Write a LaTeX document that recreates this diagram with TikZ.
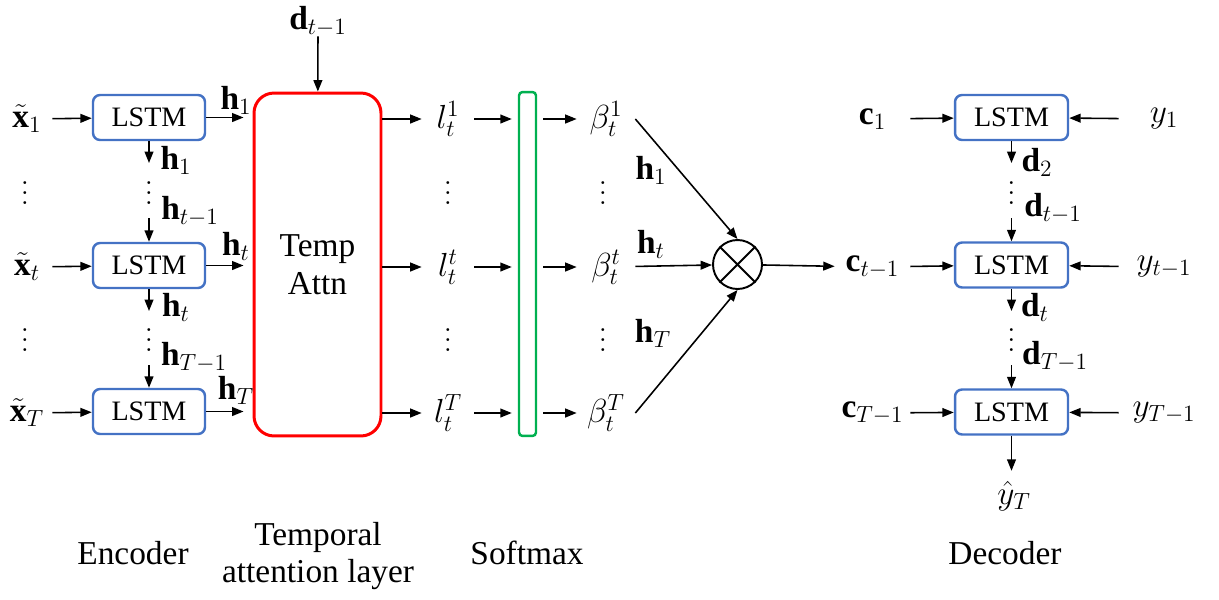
\RequirePackage{fix-cm}
\documentclass[tikz,border=0pt]{standalone}
\usepackage{amsmath}
\usepackage{amssymb}
\usepackage{fontspec}
\setmainfont{Liberation Serif}
\usetikzlibrary{positioning,arrows.meta,calc}

\definecolor{lstmblue}{RGB}{68,114,196}
\definecolor{attnred}{RGB}{255,0,0}
\definecolor{softgreen}{RGB}{0,176,80}

% three dots, no extra room above them
\newcommand{\vdotz}{\smash{\vbox{\baselineskip=5.5pt\lineskiplimit=0pt
  \hbox{$.$}\hbox{$.$}\hbox{$.$}}}}

\tikzset{
  lstm/.style={draw=lstmblue, line width=1.4pt, rounded corners=4pt,
    minimum width=2.24cm, minimum height=0.9cm, inner sep=0pt,
    font=\fontsize{16}{19}\selectfont},
  lbl/.style={font=\fontsize{19}{22}\selectfont, inner sep=0pt},
  vdot/.style={font=\fontsize{17}{20}\selectfont, inner sep=0pt},
  capt/.style={font=\fontsize{19}{21.5}\selectfont, align=center},
  arr/.style={-{Triangle[length=6.5pt,width=5pt]}, line width=0.9pt},
}

\begin{document}
\begin{tikzpicture}[x=0.02cm, y=-0.02cm]
  \useasboundingbox (0,0) rectangle (1219,599);

  % encoder
  \node[lstm] (enc1) at (149,117.5) {LSTM};
  \node[lstm] (enc2) at (149,265.5) {LSTM};
  \node[lstm] (enc3) at (149,411.5) {LSTM};
  \node[lbl, minimum width=1cm] (x1) at (27,119) {$\tilde{\mathbf{x}}_1$};
  \node[lbl, minimum width=1cm] (xt) at (27,267) {$\tilde{\mathbf{x}}_t$};
  \node[lbl, minimum width=1cm] (xT) at (27,413) {$\tilde{\mathbf{x}}_T$};
  \node[vdot] (xd1) at (25,204) {\vdotz};
  \node[vdot] (xd2) at (25,351) {\vdotz};
  \draw[arr] (x1) -- (enc1);
  \draw[arr] (xt) -- (enc2);
  \draw[arr] (xT) -- (enc3);

  \coordinate (e1s) at (149,163);
  \coordinate (e2n) at (149,218);
  \coordinate (e2s) at (149,311);
  \coordinate (e3n) at (149,365);
  \draw[arr] (enc1) -- (e1s);
  \draw[arr] (e2n) -- (enc2);
  \draw[arr] (enc2) -- (e2s);
  \draw[arr] (e3n) -- (enc3);
  \node[vdot] (ed1) at (149,204) {\vdotz};
  \node[vdot] (ed2) at (149,351) {\vdotz};
  \node[lbl] (hd1) at (176,160) {$\mathbf{h}_1$};
  \node[lbl] (hd2) at (190,211) {$\mathbf{h}_{t-1}$};
  \node[lbl] (hd3) at (176,307) {$\mathbf{h}_t$};
  \node[lbl] (hd4) at (194,357) {$\mathbf{h}_{T-1}$};

  % temporal attention
  \node[draw=attnred, line width=1.7pt, rounded corners=0.4cm,
    minimum width=2.54cm, minimum height=6.86cm, align=center,
    font=\fontsize{19}{21.5}\selectfont] (attn) at (317.5,264.5) {Temp\\Attn};
  \node[lbl] (dprev) at (318,21) {$\mathbf{d}_{t-1}$};
  \draw[arr] (dprev) -- (attn);

  \draw[arr, shorten >=0.18cm] (enc1) -- (enc1 -| attn.west);
  \draw[arr, shorten >=0.18cm] (enc2) -- (enc2 -| attn.west);
  \draw[arr, shorten >=0.18cm] (enc3) -- (enc3 -| attn.west);
  \node[lbl] (he1) at (236,100) {$\mathbf{h}_1$};
  \node[lbl] (het) at (236,246) {$\mathbf{h}_t$};
  \node[lbl] (heT) at (236,390) {$\mathbf{h}_T$};

  \node[lbl, minimum width=1.04cm] (l1) at (448,119) {$l_t^1$};
  \node[lbl, minimum width=1.04cm] (lt) at (448,267) {$l_t^t$};
  \node[lbl, minimum width=1.04cm] (lT) at (448,413) {$l_t^T$};
  \node[vdot] (ld1) at (448,204) {\vdotz};
  \node[vdot] (ld2) at (448,351) {\vdotz};
  \draw[arr] (attn.east |- l1) -- (l1);
  \draw[arr] (attn.east |- lt) -- (lt);
  \draw[arr] (attn.east |- lT) -- (lT);

  % softmax
  \node[draw=softgreen, line width=1.4pt, rounded corners=2pt,
    minimum width=0.34cm, minimum height=6.88cm, inner sep=0pt] (soft) at (527.5,264) {};
  \draw[arr, shorten >=0.12cm] (l1) -- (l1 -| soft.west);
  \draw[arr, shorten >=0.12cm] (lt) -- (lt -| soft.west);
  \draw[arr, shorten >=0.12cm] (lT) -- (lT -| soft.west);

  \node[lbl, minimum width=1.16cm] (b1) at (606,119) {$\beta_t^1$};
  \node[lbl, minimum width=1.16cm] (bt) at (606,267) {$\beta_t^t$};
  \node[lbl, minimum width=1.16cm] (bT) at (606,413) {$\beta_t^T$};
  \node[vdot] (bd1) at (603,204) {\vdotz};
  \node[vdot] (bd2) at (603,351) {\vdotz};
  \draw[arr, shorten <=0.12cm] (soft.east |- b1) -- (b1);
  \draw[arr, shorten <=0.12cm] (soft.east |- bt) -- (bt);
  \draw[arr, shorten <=0.12cm] (soft.east |- bT) -- (bT);

  % weighted sum
  \node[draw, circle, line width=1.1pt, minimum size=0.98cm, inner sep=0pt] (mul) at (737.5,264.5) {};
  \draw[line width=1.1pt] (mul.north west) -- (mul.south east)
    (mul.north east) -- (mul.south west);
  \draw[arr] (b1.east) -- (mul.north);
  \draw[arr] (bt) -- (mul);
  \draw[arr] (bT.east) -- (mul.south);
  \node[lbl] (hm1) at (651,170) {$\mathbf{h}_1$};
  \node[lbl] (hmt) at (651,244) {$\mathbf{h}_t$};
  \node[lbl] (hmT) at (653,333) {$\mathbf{h}_T$};

  % decoder
  \node[lstm, minimum width=2.26cm] (dec1) at (1011.5,117.5) {LSTM};
  \node[lstm, minimum width=2.26cm] (dec2) at (1011.5,265) {LSTM};
  \node[lstm, minimum width=2.26cm] (dec3) at (1011.5,412) {LSTM};
  \node[lbl, minimum width=1.5cm] (c1) at (872.5,119) {$\mathbf{c}_1$};
  \node[lbl, minimum width=1.5cm] (ct) at (872.5,267) {$\mathbf{c}_{t-1}$};
  \node[lbl, minimum width=1.5cm] (cT) at (872.5,413) {$\mathbf{c}_{T-1}$};
  \node[lbl, minimum width=1.8cm] (y1) at (1164,119) {$y_1$};
  \node[lbl, minimum width=1.8cm] (yt) at (1164,267) {$y_{t-1}$};
  \node[lbl, minimum width=1.8cm] (yT) at (1164,413) {$y_{T-1}$};
  \draw[arr] (mul) -- (ct);
  \draw[arr] (c1) -- (dec1);
  \draw[arr] (ct) -- (dec2);
  \draw[arr] (cT) -- (dec3);
  \draw[arr] (y1) -- (dec1);
  \draw[arr] (yt) -- (dec2);
  \draw[arr] (yT) -- (dec3);

  \coordinate (d1s) at (1011.5,163);
  \coordinate (d2n) at (1011.5,218);
  \coordinate (d2s) at (1011.5,311);
  \coordinate (d3n) at (1011.5,365);
  \draw[arr] (dec1) -- (d1s);
  \draw[arr] (d2n) -- (dec2);
  \draw[arr] (dec2) -- (d2s);
  \draw[arr] (d3n) -- (dec3);
  \node[vdot] (dd1) at (1011.5,204) {\vdotz};
  \node[vdot] (dd2) at (1011.5,351) {\vdotz};
  \node[lbl] (dl1) at (1037,162) {$\mathbf{d}_2$};
  \node[lbl] (dl2) at (1053,208) {$\mathbf{d}_{t-1}$};
  \node[lbl] (dl3) at (1035,307) {$\mathbf{d}_t$};
  \node[lbl] (dl4) at (1055,356) {$\mathbf{d}_{T-1}$};
  \node[lbl] (yhat) at (1014,496) {$\hat{y}_T$};
  \draw[arr, shorten >=0.2cm] (dec3) -- (dec3 |- yhat.north);

  % captions
  \node[capt] (encl) at (133,553) {Encoder};
  \node[capt] (attnl) at (318,556) {Temporal\\attention layer};
  \node[capt] (softl) at (527,553) {Softmax};
  \node[capt] (decl) at (1005,553) {Decoder};
\end{tikzpicture}
\end{document}
